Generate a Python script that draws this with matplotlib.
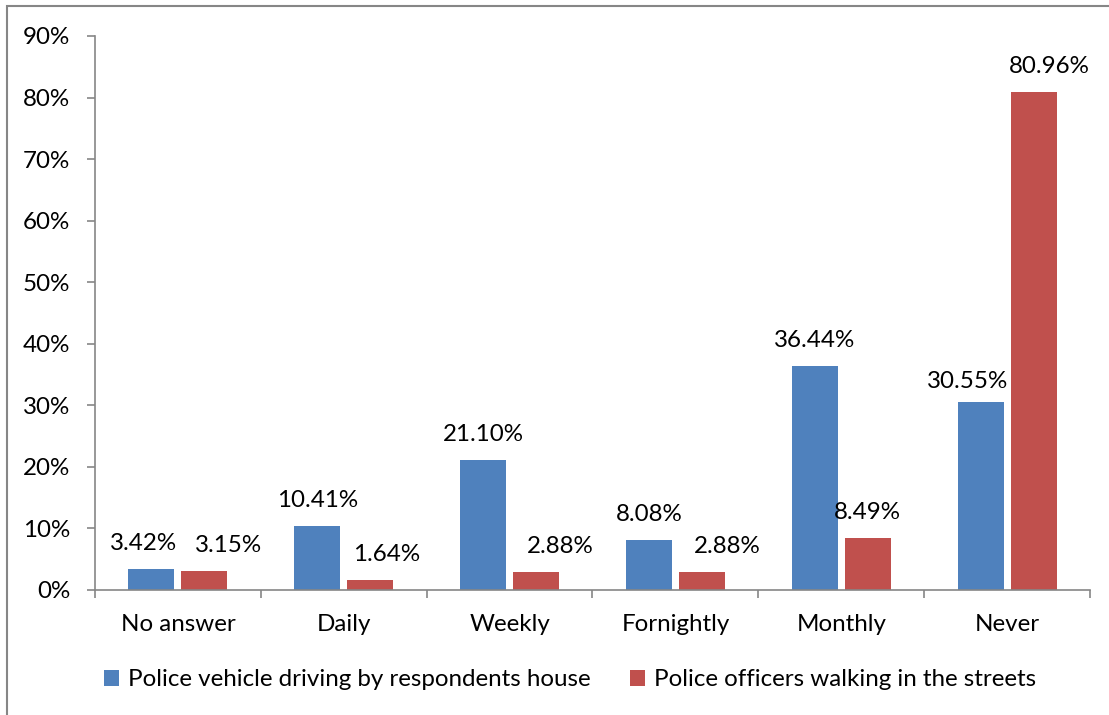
import matplotlib.pyplot as plt
import matplotlib.patches as mpatches
import numpy as np

plt.rcParams['font.family'] = ['Lato', 'DejaVu Sans']

categories = ['No answer', 'Daily', 'Weekly', 'Fornightly', 'Monthly', 'Never']
vehicle = [3.42, 10.41, 21.10, 8.08, 36.44, 30.55]
walking = [3.15, 1.64, 2.88, 2.88, 8.49, 80.96]
series_names = ['Police vehicle driving by respondents house',
                'Police officers walking in the streets']
yticks = [0, 10, 20, 30, 40, 50, 60, 70, 80, 90]

# label nudges in pixels (the labels were dragged around in the original)
dx_vehicle = [-8, 0, 0, 0, 0, -13]
dx_walking = [24, 16, 24, 25, 0, 16]
dy_vehicle = [19, 19, 19, 19, 19, 14]
dy_walking = [19, 19, 19, 19, 19, 19]

blue = '#4F81BD'
red = '#C0504D'
grey = '#868686'
fs = 17.4

fig = plt.figure(figsize=(11.09, 7.15), dpi=100)
ax = fig.add_axes([95 / 1109, 1 - 590 / 715, (1090 - 95) / 1109, (590 - 36) / 715])

x = np.arange(len(categories))
w = 0.277
off = 0.16
b1 = ax.bar(x - off, vehicle, w, color=blue, label=series_names[0])
b2 = ax.bar(x + off, walking, w, color=red, label=series_names[1])

for bars, vals, dxs, dys in [(b1, vehicle, dx_vehicle, dy_vehicle),
                             (b2, walking, dx_walking, dy_walking)]:
    for r, v, dx, dy in zip(bars, vals, dxs, dys):
        ax.annotate('{:.2f}%'.format(v), (r.get_x() + r.get_width() / 2, v),
                    xytext=(dx, dy), textcoords='offset pixels',
                    ha='center', va='baseline', fontsize=fs)

ax.set_xlim(-0.5, len(categories) - 0.5)
ax.set_ylim(0, 90)
ax.set_yticks(yticks)
ax.set_yticklabels(['{}%'.format(t) for t in yticks], fontsize=fs)
ax.set_xticks(x)
ax.set_xticklabels(categories, fontsize=fs)
ax.tick_params(axis='x', length=0, pad=17)
ax.set_xticks(np.arange(len(categories) + 1) - 0.5, minor=True)
ax.tick_params(axis='x', which='minor', length=5.8, color=grey, width=1.2)
ax.tick_params(axis='y', length=5.8, color=grey, width=1.2, pad=12)

for s in ['top', 'right']:
    ax.spines[s].set_visible(False)
for s in ['left', 'bottom']:
    ax.spines[s].set_color(grey)
    ax.spines[s].set_linewidth(1.2)

fig.legend(handles=[b1, b2], loc='center', bbox_to_anchor=(570 / 1109, 1 - 680 / 715),
           ncol=2, frameon=False, fontsize=fs, handlelength=0.62, handleheight=0.62,
           handletextpad=0.4, columnspacing=1.6)

fig.patches.append(mpatches.Rectangle((7 / 1109, -0.1), 1.2, 1 - 6 / 715 + 0.1,
                                      transform=fig.transFigure, fill=False,
                                      edgecolor=grey, linewidth=1.5))

fig.savefig('out.png', dpi=100)
